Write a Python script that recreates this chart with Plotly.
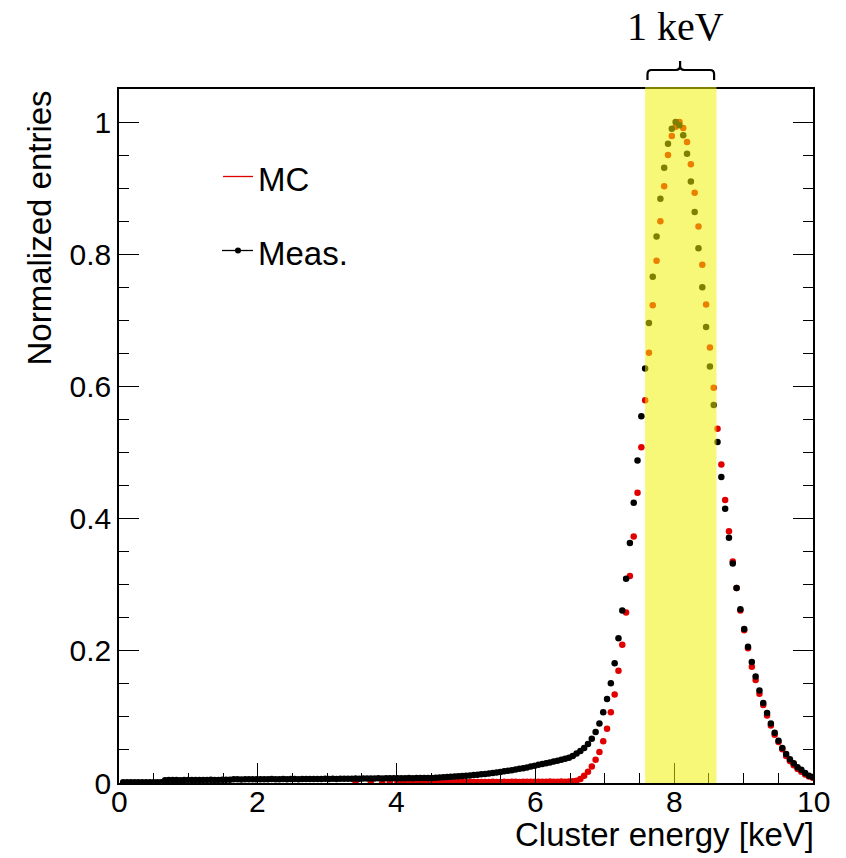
import plotly.graph_objects as go

# Histogram binning (bin centres in keV)
BIN_W = 0.0549
FIRST_CENTER = 0.06

# Normalized entries, measured spectrum
meas = [
    0.0010, 0.0012, 0.0011, 0.0010, 0.0012, 0.0011, 0.0013, 0.0012, 0.0011, 0.0012,
    0.0013, 0.0042, 0.0045, 0.0044, 0.0046, 0.0043, 0.0045, 0.0047, 0.0044, 0.0046,
    0.0045, 0.0047, 0.0046, 0.0048, 0.0045, 0.0047, 0.0049, 0.0048, 0.0050, 0.0055,
    0.0056, 0.0054, 0.0057, 0.0056, 0.0058, 0.0055, 0.0057, 0.0058, 0.0056, 0.0059,
    0.0057, 0.0058, 0.0060, 0.0057, 0.0059, 0.0061, 0.0058, 0.0060, 0.0062, 0.0059,
    0.0061, 0.0060, 0.0062, 0.0063, 0.0061, 0.0064, 0.0062, 0.0065, 0.0063, 0.0066,
    0.0064, 0.0067, 0.0066, 0.0068, 0.0067, 0.0069, 0.0068, 0.0070, 0.0069, 0.0071,
    0.0070, 0.0072, 0.0071, 0.0073, 0.0072, 0.0074, 0.0073, 0.0075, 0.0074, 0.0076,
    0.0075, 0.0077, 0.0080, 0.0083, 0.0086, 0.0089, 0.0093, 0.0097, 0.0101, 0.0105,
    0.0110, 0.0115, 0.0120, 0.0126, 0.0132, 0.0138, 0.0145, 0.0152, 0.0160, 0.0168,
    0.0176, 0.0185, 0.0194, 0.0204, 0.0214, 0.0225, 0.0236, 0.0248, 0.0262, 0.0275,
    0.0288, 0.0300, 0.0312, 0.0325, 0.0338, 0.0352, 0.0367, 0.0383, 0.0410, 0.0445,
    0.0485, 0.053, 0.059, 0.067, 0.077, 0.090, 0.107, 0.127, 0.151, 0.181,
    0.219, 0.261, 0.309, 0.363, 0.424, 0.488, 0.555, 0.627, 0.696, 0.766,
    0.827, 0.884, 0.931, 0.967, 0.990, 1.000, 0.995, 0.980, 0.952, 0.910,
    0.864, 0.809, 0.750, 0.690, 0.630, 0.572, 0.516, 0.463, 0.415, 0.371,
    0.332, 0.295, 0.263, 0.233, 0.206, 0.183, 0.161, 0.140, 0.121, 0.106,
    0.090, 0.076, 0.064, 0.053, 0.044, 0.036, 0.030, 0.024, 0.020, 0.015,
    0.011, 0.009,
]

# Normalized entries, simulation (empty bins are not drawn)
mc = [None] * 60 + [
    None, 0.0003, None, None, None, 0.0003, None, None, 0.0004, None,
    0.0006, None, 0.0010, 0.0008, 0.0012, 0.0010, 0.0011, 0.0013, 0.0012, 0.0011,
    0.0013, 0.0012, 0.0014, 0.0013, 0.0012, 0.0015, 0.0014, 0.0013, 0.0015, 0.0016,
    0.0014, 0.0015, 0.0017, 0.0016, 0.0015, 0.0017, 0.0016, 0.0018, 0.0017, 0.0016,
    0.0018, 0.0017, 0.0019, 0.0018, 0.0017, 0.0019, 0.0018, 0.0020, 0.0019, 0.0018,
    0.0020, 0.0019, 0.0021, 0.0020, 0.0019, 0.0021, 0.0020, 0.0022, 0.0025, 0.0035,
    0.006, 0.011, 0.017, 0.025, 0.035, 0.047, 0.063, 0.082, 0.107, 0.134,
    0.170, 0.209, 0.258, 0.313, 0.373, 0.439, 0.508, 0.579, 0.651, 0.723,
    0.790, 0.850, 0.903, 0.950, 0.979, 0.993, 1.000, 0.991, 0.970, 0.936,
    0.893, 0.842, 0.784, 0.724, 0.659, 0.598, 0.536, 0.482, 0.428, 0.381,
    0.335, 0.295, 0.261, 0.231, 0.204, 0.176, 0.156, 0.135, 0.118, 0.102,
    0.087, 0.073, 0.062, 0.051, 0.041, 0.033, 0.027, 0.021, 0.017, 0.013,
    0.010, 0.008,
]

assert len(meas) == len(mc)
centers = [FIRST_CENTER + BIN_W * k for k in range(len(meas))]

# Highlighted 1 keV window around the peak
band_lo, band_hi = 7.58, 8.61

x_ticks = [0, 2, 4, 6, 8, 10]
x_tick_text = ["0", "2", "4", "6", "8", "10"]
y_ticks = [0, 0.2, 0.4, 0.6, 0.8, 1]

SANS = "Liberation Sans, Arial, Helvetica, sans-serif"
SERIF = "Liberation Serif, DejaVu Serif, serif"
RED = "rgb(225,0,0)"

fig = go.Figure()
fig.add_trace(go.Scatter(x=centers, y=mc, mode="markers", name="MC",
                         marker=dict(color=RED, size=6.5, line=dict(width=0)),
                         cliponaxis=True))
fig.add_trace(go.Scatter(x=centers, y=meas, mode="markers", name="Meas.",
                         marker=dict(color="black", size=6.5, line=dict(width=0)),
                         cliponaxis=True))

L, R, T, B = 119, 33, 89, 75
W, H = 846, 858
PW, PH = W - L - R, H - T - B


def px_x(p):
    return (p - L) / PW


def px_y(p):
    return (H - B - p) / PH


shapes = []
# yellow window over the data
shapes.append(dict(type="rect", xref="x", yref="paper", x0=band_lo, x1=band_hi,
                   y0=0, y1=1.003, fillcolor="rgba(242,242,0,0.53)",
                   line=dict(width=0), layer="above"))

# curly brace above the window
inset = 0.035
bl, bh = band_lo + inset, band_hi - inset
bc = 0.5 * (band_lo + band_hi) - 0.01
yb, ym, yt = px_y(80), px_y(70), px_y(61)
r = 0.06
ry = 0.006
brace = (f"M {bl},{yb} L {bl},{ym - ry} Q {bl},{ym} {bl + r},{ym} "
         f"L {bc - r},{ym} Q {bc},{ym} {bc},{ym + ry} L {bc},{yt} "
         f"M {bc},{ym + ry} Q {bc},{ym} {bc + r},{ym} "
         f"L {bh - r},{ym} Q {bh},{ym} {bh},{ym - ry} L {bh},{yb}")
shapes.append(dict(type="path", xref="x", yref="paper", path=brace,
                   line=dict(color="black", width=2.2), layer="above"))

# legend entries
shapes.append(dict(type="line", xref="paper", yref="paper",
                   x0=px_x(223), x1=px_x(253), y0=px_y(176.5), y1=px_y(176.5),
                   line=dict(color=RED, width=1.3)))
shapes.append(dict(type="line", xref="paper", yref="paper",
                   x0=px_x(222), x1=px_x(253), y0=px_y(250.5), y1=px_y(250.5),
                   line=dict(color="black", width=1.3)))
shapes.append(dict(type="circle", xref="paper", yref="paper",
                   x0=px_x(235), x1=px_x(241), y0=px_y(247.5), y1=px_y(253.5),
                   fillcolor="black", line=dict(width=0)))

annotations = [
    dict(text="Cluster energy [keV]", xref="paper", yref="paper",
         x=px_x(816), y=px_y(834), xanchor="right", yanchor="middle",
         showarrow=False, font=dict(family=SANS, size=33, color="black")),
    dict(text="Normalized entries", xref="paper", yref="paper",
         x=px_x(39), y=1.0, xanchor="center", yanchor="top", textangle=-90,
         showarrow=False, font=dict(family=SANS, size=33, color="black")),
    dict(text="MC", xref="paper", yref="paper", x=px_x(256), y=px_y(180),
         xanchor="left", yanchor="middle", showarrow=False,
         font=dict(family=SANS, size=33, color="black")),
    dict(text="Meas.", xref="paper", yref="paper", x=px_x(256), y=px_y(253),
         xanchor="left", yanchor="middle", showarrow=False,
         font=dict(family=SANS, size=33, color="black")),
    dict(text="1 keV", xref="paper", yref="paper", x=px_x(675), y=px_y(27),
         xanchor="center", yanchor="middle", showarrow=False,
         font=dict(family=SERIF, size=40, color="black")),
]

# x tick labels placed just under the frame
for v, t in zip(x_ticks, x_tick_text):
    annotations.append(dict(text=t, xref="x", yref="paper", x=v, y=px_y(801),
                            xanchor="center", yanchor="middle", showarrow=False,
                            font=dict(family=SANS, size=30, color="black")))

axis_common = dict(
    showgrid=False, zeroline=False, showline=True, linecolor="black",
    linewidth=1.5, ticks="inside", ticklen=20, tickwidth=1.2, tickcolor="black",
    tickfont=dict(family=SANS, size=30, color="black"),
)

fig.update_layout(
    width=W, height=H,
    margin=dict(l=L, r=R, t=T, b=B, pad=0),
    paper_bgcolor="white", plot_bgcolor="white",
    showlegend=False,
    xaxis=dict(range=[0, 10], tickvals=x_ticks, mirror=True,
               showticklabels=False,
               minor=dict(dtick=0.5, ticklen=10, tickwidth=1.2, ticks="inside",
                          tickcolor="black", showgrid=False),
               **axis_common),
    yaxis=dict(range=[0, 1.05], tickvals=y_ticks, mirror="ticks",
               minor=dict(dtick=0.05, ticklen=10, tickwidth=1.2, ticks="inside",
                          tickcolor="black", showgrid=False),
               **axis_common),
    shapes=shapes,
    annotations=annotations,
)

fig.write_html("out.html")
